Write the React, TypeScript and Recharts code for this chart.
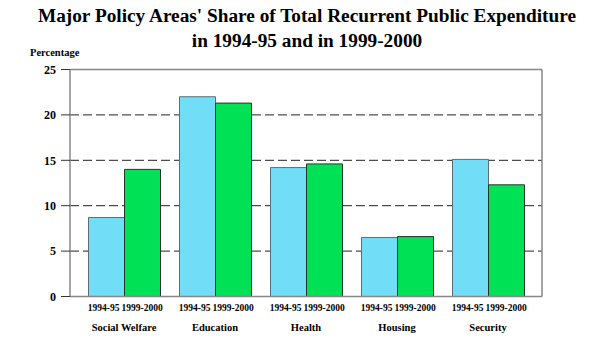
import {
  BarChart,
  Bar,
  XAxis,
  YAxis,
  CartesianGrid,
  ReferenceLine,
} from 'recharts'

const CATEGORIES = ['Social Welfare', 'Education', 'Health', 'Housing', 'Security']
const SHARE_1994 = [8.7, 22.0, 14.2, 6.5, 15.1]
const SHARE_1999 = [14.0, 21.3, 14.6, 6.6, 12.3]
const SERIES_LABELS = ['1994-95', '1999-2000']
const Y_TICKS = [0, 5, 10, 15, 20, 25]

const data = CATEGORIES.map((name, i) => ({
  name,
  y1994: SHARE_1994[i],
  y1999: SHARE_1999[i],
}))

const SERIF = 'Liberation Serif, Times New Roman, serif'

function CategoryTick(props: any) {
  const { x, y, payload } = props
  return (
    <g style={{ fontFamily: SERIF, fontWeight: 'bold' }} fill="#000">
      <text x={x - 4.5} y={y + 6} textAnchor="end" fontSize={9.5}>
        {SERIES_LABELS[0]}
      </text>
      <text x={x - 2.5} y={y + 6} textAnchor="start" fontSize={9.5}>
        {SERIES_LABELS[1]}
      </text>
      <text x={x} y={y + 26} textAnchor="middle" fontSize={10.5}>
        {payload.value}
      </text>
    </g>
  )
}

export default function App() {
  return (
    <div style={{ position: 'absolute', left: 0, top: 0, width: 602, height: 358, background: '#fff' }}>
      <div
        style={{
          position: 'absolute',
          left: 0,
          top: 3,
          width: 614,
          textAlign: 'center',
          fontFamily: SERIF,
          fontWeight: 'bold',
          fontSize: 19.3,
          lineHeight: '25px',
        }}
      >
        Major Policy Areas' Share of Total Recurrent Public Expenditure
        <br />
        in 1994-95 and in 1999-2000
      </div>
      <div
        style={{
          position: 'absolute',
          left: 30,
          top: 46.5,
          fontFamily: SERIF,
          fontWeight: 'bold',
          fontSize: 10.5,
        }}
      >
        Percentage
      </div>
      <BarChart
        width={602}
        height={358}
        data={data}
        margin={{ top: 69.5, right: 0, bottom: 0, left: 0 }}
        barSize={36}
        barGap={0}
      >
        <CartesianGrid
          vertical={false}
          horizontalValues={[5, 10, 15, 20]}
          stroke="#222"
          strokeDasharray="9 4"
        />
        <ReferenceLine y={25} stroke="#888" strokeWidth={1.5} />
        <XAxis
          dataKey="name"
          height={61.5}
          padding={{ left: 8.5, right: 8.5 }}
          axisLine={{ stroke: '#888', strokeWidth: 1.5 }}
          tickLine={false}
          tick={<CategoryTick />}
          interval={0}
        />
        <YAxis
          width={70}
          domain={[0, 25]}
          ticks={Y_TICKS}
          tickSize={9}
          axisLine={{ stroke: '#888', strokeWidth: 1.5 }}
          tickLine={{ stroke: '#333' }}
          tick={{ style: { fontFamily: SERIF, fontWeight: 'bold' }, fontSize: 12, fill: '#000' }}
          tickMargin={5}
        />
        <YAxis
          yAxisId="r"
          orientation="right"
          width={60}
          domain={[0, 25]}
          tick={false}
          tickLine={false}
          axisLine={{ stroke: '#888', strokeWidth: 1.5 }}
        />
        <Bar dataKey="y1994" fill="#72DDF7" stroke="#5a6e78" isAnimationActive={false} />
        <Bar dataKey="y1999" fill="#00E155" stroke="#1d3a28" isAnimationActive={false} />
      </BarChart>
    </div>
  )
}
